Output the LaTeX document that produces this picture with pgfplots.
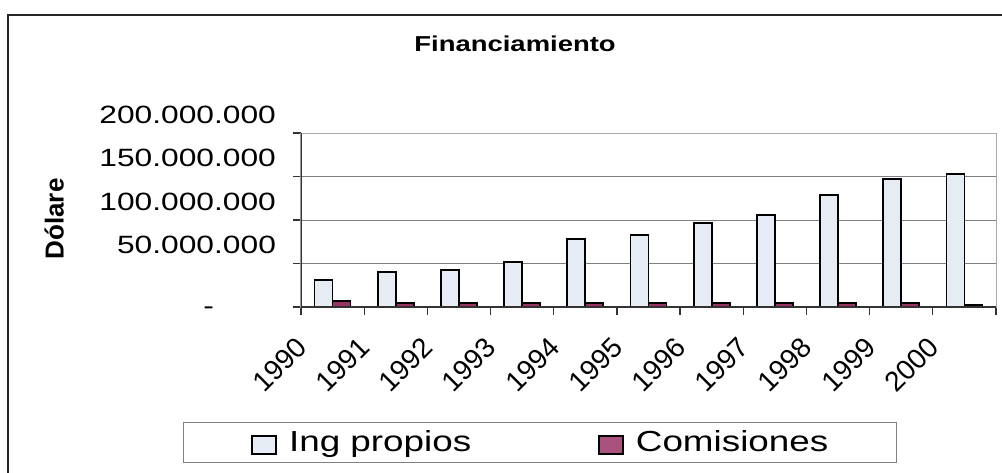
\documentclass[border=0pt]{standalone}
\usepackage{fontspec}
\setmainfont{Liberation Sans}[FakeStretch=1.27]
\newfontfamily\plainfont{Liberation Sans}
\usepackage{pgfplots}
\pgfplotsset{compat=1.18}

\definecolor{ingfill}{RGB}{230,236,244}
\definecolor{comfill}{RGB}{153,51,102}
\definecolor{gridgray}{RGB}{128,128,128}

\begin{document}
\begin{tikzpicture}[x=1pt,y=1pt]
% chart frame
\draw[line width=1.2pt, black!85] (4,-300) -- (4,-7.5) -- (540,-7.5);
\begin{axis}[
  at={(150.5pt,-153.5pt)}, anchor=south west,
  scale only axis, width=347.5pt, height=87pt,
  xmin=-0.5, xmax=10.5, ymin=0, ymax=200000000,
  xtick={-0.5,0.5,...,10.5},
  x tick label as interval,
  xtick pos=bottom, ytick pos=left,
  xticklabels={1990,1991,1992,1993,1994,1995,1996,1997,1998,1999,2000},
  ytick={0,50000000,100000000,150000000,200000000},
  yticklabels={{\raisebox{-8.5pt}{-}\hspace*{31pt}},50.000.000,100.000.000,150.000.000,200.000.000},
  scaled y ticks=false,
  ymajorgrids, grid style={gridgray, line width=0.5pt},
  tick align=outside, major tick length=4pt,
  tick style={black!80, line width=0.6pt},
  axis line style={gray!70, line width=0.5pt},
  yticklabel style={font=\fontsize{12.5}{14}\selectfont, anchor=base east, xshift=-5pt, yshift=5pt},
  xticklabel style={font=\plainfont\fontsize{14}{16}\selectfont, inner sep=0pt, anchor=north east, xshift=-19pt, yshift=-10pt, rotate=45},
  title={Financiamiento},
  title style={font=\bfseries\fontsize{10.8}{13}\selectfont, at={(0.308,1.442)}, anchor=center},
  ylabel={Dólare},
  ylabel style={font=\plainfont\bfseries\fontsize{13}{15}\selectfont, at={(-0.355,0.506)}, anchor=center},
  ybar=0pt, bar width=9pt,
  legend columns=2,
  legend style={
    at={(-0.1698,-0.6609)}, anchor=north west,
    draw=gray, line width=0.5pt,
    inner xsep=34pt, inner ysep=4pt,
    font=\fontsize{14.5}{17}\selectfont,
    nodes={inner sep=0pt},
    /tikz/every odd column/.append style={column sep=6pt},
    /tikz/every even column/.append style={column sep=63.5pt},
  },
]
\addplot[fill=ingfill, draw=black, line width=0.9pt,
  legend image code/.code={\draw[fill=ingfill, draw=black, line width=0.8pt] (16pt,-5.8pt) rectangle (28pt,3.2pt);}]
  coordinates {
  (0,30700000) (1,40600000) (2,42900000) (3,51700000) (4,77800000)
  (5,82400000) (6,96600000) (7,105400000) (8,128400000) (9,147500000)
  (10,152500000)};
\addplot[fill=comfill, draw=black, line width=0.9pt,
  legend image code/.code={\draw[fill=comfill!85!white, draw=black, line width=0.8pt] (16pt,-5.8pt) rectangle (28pt,3.2pt);}]
  coordinates {
  (0,7000000) (1,5000000) (2,5000000) (3,5000000) (4,5000000)
  (5,5000000) (6,5000000) (7,5000000) (8,5000000) (9,5000000)
  (10,2500000)};
\legend{Ing propios, Comisiones}
% dark value and category axes
\draw[black!80, line width=0.8pt] (rel axis cs:0,1) -- (rel axis cs:0,0) -- (rel axis cs:1,0);
\end{axis}
\pgfresetboundingbox
\path[use as bounding box] (0,0) rectangle (501,-236);
\end{tikzpicture}
\end{document}
